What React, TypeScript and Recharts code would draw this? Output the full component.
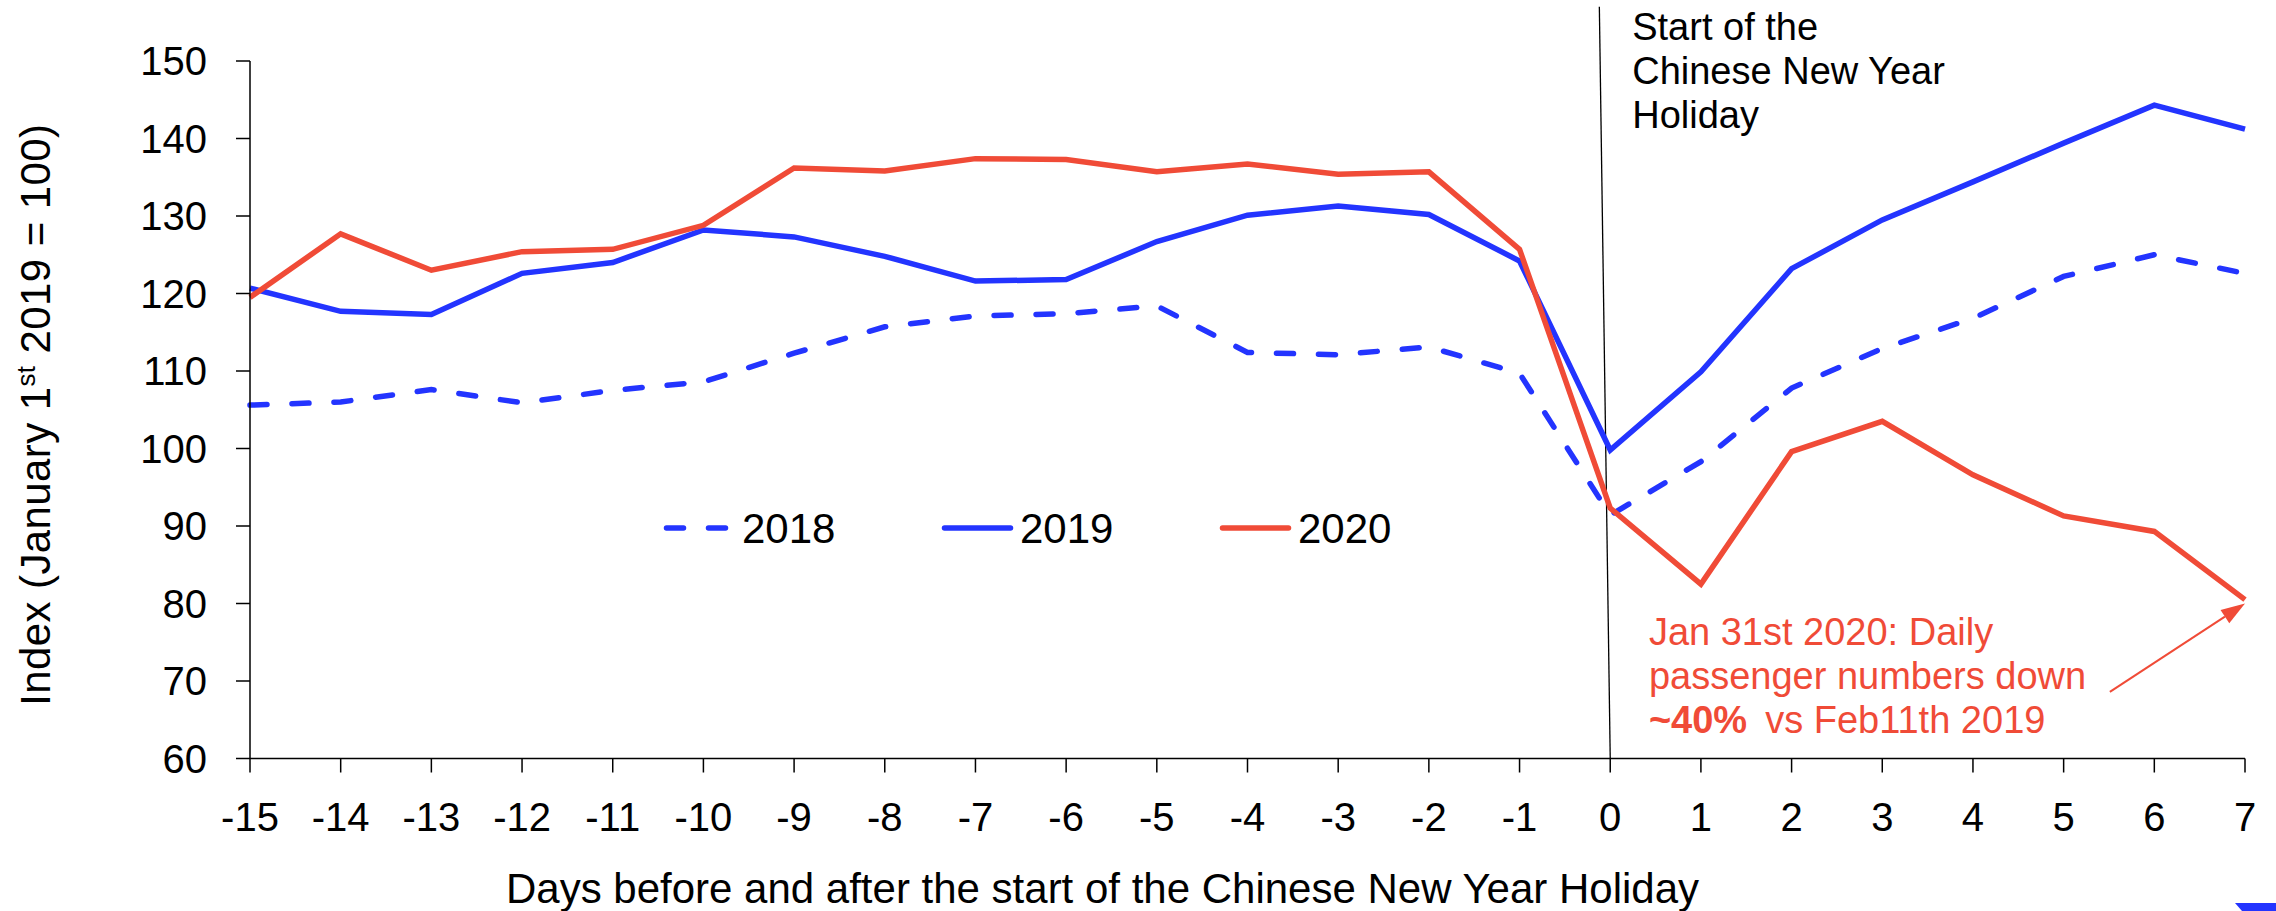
import React from "react";
import {
  LineChart,
  Line,
  XAxis,
  YAxis,
  Legend,
  ReferenceLine,
  Label,
} from "recharts";

// Days relative to the start of the Chinese New Year holiday
const DAYS = [-15, -14, -13, -12, -11, -10, -9, -8, -7, -6, -5, -4, -3, -2, -1, 0, 1, 2, 3, 4, 5, 6, 7];

// Daily passenger index (January 1st 2019 = 100)
const IDX_2018 = [105.6, 106.0, 107.6, 105.9, 107.5, 108.6, 112.3, 115.7, 117.1, 117.4, 118.4, 112.4, 112.1, 113.1, 109.7, 91.4, 98.3, 107.8, 112.9, 116.8, 122.2, 125.0, 122.6];
const IDX_2019 = [120.7, 117.7, 117.3, 122.6, 124.0, 128.2, 127.3, 124.8, 121.6, 121.8, 126.7, 130.1, 131.3, 130.2, 124.2, 99.8, 109.9, 123.2, 129.5, 134.4, 139.4, 144.3, 141.2];
const IDX_2020 = [119.5, 127.7, 123.0, 125.4, 125.7, 128.8, 136.2, 135.8, 137.4, 137.3, 135.7, 136.7, 135.4, 135.7, 125.7, 92.3, 82.5, 99.6, 103.5, 96.6, 91.3, 89.3, 80.5];

const Y_TICKS = [60, 70, 80, 90, 100, 110, 120, 130, 140, 150];

const HOLIDAY_NOTE = ["Start of the", "Chinese New Year", "Holiday"];
const DROP_NOTE_1 = "Jan 31st 2020: Daily";
const DROP_NOTE_2 = "passenger numbers down";
const DROP_NOTE_BOLD = "~40%";
const DROP_NOTE_3 = "vs Feb11th 2019";

const X_TITLE = "Days before and after the start of the Chinese New Year Holiday";

const BLUE = "#2334FF";
const RED = "#F04B37";
const FONT = "'Liberation Sans', Arial, sans-serif";

const SERIES = [
  { key: "y2018", name: "2018", color: BLUE, dash: "17 25" },
  { key: "y2019", name: "2019", color: BLUE, dash: undefined as string | undefined },
  { key: "y2020", name: "2020", color: RED, dash: undefined as string | undefined },
];

const rows = DAYS.map((day, i) => ({
  day,
  y2018: IDX_2018[i],
  y2019: IDX_2019[i],
  y2020: IDX_2020[i],
}));

// Legend drawn as a row of line samples followed by the year
const LegendRow = () => (
  <svg width={800} height={60} style={{ display: "block", overflow: "visible" }}>
    {SERIES.map((s, i) => {
      const x0 = i * 278;
      return (
        <g key={s.key}>
          <line
            x1={x0 + 2.5}
            y1={30}
            x2={x0 + 68.5}
            y2={30}
            stroke={s.color}
            strokeWidth={5.5}
            strokeLinecap="round"
            strokeDasharray={s.dash}
          />
          <text
            x={x0 + 78}
            y={30}
            dy="0.36em"
            fontSize={42}
            fontFamily={FONT}
            fill="#000"
          >
            {s.name}
          </text>
        </g>
      );
    })}
  </svg>
);

// Thin vertical marker for the holiday start, with its caption
const holidayMarker = (p: any) => {
  const xb = Math.max(p.x1, p.x2);
  const top = Math.min(p.y1, p.y2);
  return (
    <g>
      <line x1={p.x1} y1={p.y1} x2={p.x2} y2={p.y2} stroke="#000" strokeWidth={1.3} />
      {HOLIDAY_NOTE.map((t, i) => (
        <text
          key={t}
          x={xb + 22}
          y={top + 33 + i * 44}
          fontSize={38}
          fontFamily={FONT}
          fill="#000"
        >
          {t}
        </text>
      ))}
    </g>
  );
};

// Red arrow pointing at the last 2020 value, with its note
const dropArrow = (p: any) => {
  const { x1, y1, x2, y2 } = p;
  const ang = Math.atan2(y2 - y1, x2 - x1);
  const L = 24;
  const W = 8;
  const c = Math.cos(ang);
  const s = Math.sin(ang);
  const bx = x2 - L * c;
  const by = y2 - L * s;
  const tx = x1 - 461;
  return (
    <g>
      <line x1={x1} y1={y1} x2={bx} y2={by} stroke={RED} strokeWidth={2} />
      <polygon
        points={`${x2},${y2} ${bx - W * s},${by + W * c} ${bx + W * s},${by - W * c}`}
        fill={RED}
      />
      <text x={tx} y={y1 - 47} fontSize={38} fontFamily={FONT} fill={RED}>
        {DROP_NOTE_1}
      </text>
      <text x={tx} y={y1 - 3} fontSize={38} fontFamily={FONT} fill={RED}>
        {DROP_NOTE_2}
      </text>
      <text x={tx} y={y1 + 41} fontSize={38} fontFamily={FONT} fill={RED}>
        <tspan fontWeight="bold">{DROP_NOTE_BOLD}</tspan>
        <tspan dx={18}>{DROP_NOTE_3}</tspan>
      </text>
    </g>
  );
};

const tickStyle = { fill: "#000", fontSize: 40, fontFamily: FONT };
const axisStroke = { stroke: "#000", strokeWidth: 1.5 };

export default function App() {
  return (
    <div
      style={{
        position: "absolute",
        left: 0,
        top: 0,
        width: 2276,
        height: 911,
        background: "#fff",
        overflow: "hidden",
      }}
    >
      <LineChart
        width={2276}
        height={911}
        data={rows}
        margin={{ top: 61, right: 31, bottom: 0, left: 0 }}
      >
        <XAxis
          type="number"
          dataKey="day"
          domain={[-15, 7]}
          ticks={DAYS}
          interval={0}
          height={152.5}
          tick={tickStyle}
          tickSize={14}
          tickMargin={30}
          tickLine={axisStroke}
          axisLine={axisStroke}
        >
          <Label
            content={(props: any) => {
              const vb = props.viewBox;
              return (
                <text
                  x={vb.x + 852.5}
                  y={vb.y + 144.5}
                  textAnchor="middle"
                  fontSize={42}
                  fontFamily={FONT}
                  fill="#000"
                >
                  {X_TITLE}
                </text>
              );
            }}
          />
        </XAxis>
        <YAxis
          type="number"
          domain={[60, 150]}
          ticks={Y_TICKS}
          interval={0}
          width={250}
          tick={tickStyle}
          tickSize={14}
          tickMargin={29}
          tickLine={axisStroke}
          axisLine={axisStroke}
        >
          <Label
            content={(props: any) => {
              const vb = props.viewBox;
              const x = vb.x + 50;
              const y = vb.y + vb.height / 2 + 5;
              return (
                <text
                  x={x}
                  y={y}
                  transform={`rotate(-90, ${x}, ${y})`}
                  textAnchor="middle"
                  fontSize={42}
                  fontFamily={FONT}
                  fill="#000"
                  letterSpacing={0.4}
                >
                  <tspan>Index (January 1</tspan>
                  <tspan fontSize={26} dy={-15}>st</tspan>
                  <tspan dy={15}> 2019 = 100)</tspan>
                </text>
              );
            }}
          />
        </YAxis>
        <Legend
          layout="horizontal"
          verticalAlign="middle"
          align="center"
          wrapperStyle={{ left: 664, top: 498, width: 800, height: 60 }}
          content={() => <LegendRow />}
        />
        <ReferenceLine
          segment={[
            { x: -0.12, y: 157 },
            { x: 0, y: 60 },
          ]}
          ifOverflow="visible"
          shape={holidayMarker}
        />
        {SERIES.map((s) => (
          <Line
            key={s.key}
            type="linear"
            dataKey={s.key}
            name={s.name}
            stroke={s.color}
            strokeWidth={5.5}
            strokeDasharray={s.dash}
            strokeLinecap={s.dash ? "round" : "butt"}
            dot={false}
            activeDot={false}
            isAnimationActive={false}
          />
        ))}
        <ReferenceLine
          segment={[
            { x: 5.51, y: 68.6 },
            { x: 7, y: 80 },
          ]}
          ifOverflow="visible"
          shape={dropArrow}
        />
      </LineChart>
      <div
        style={{
          position: "absolute",
          left: 2235,
          top: 903,
          width: 41,
          height: 8,
          background: BLUE,
          clipPath: "polygon(0 0, 100% 0, 100% 100%, 17% 100%)",
        }}
      />
    </div>
  );
}
